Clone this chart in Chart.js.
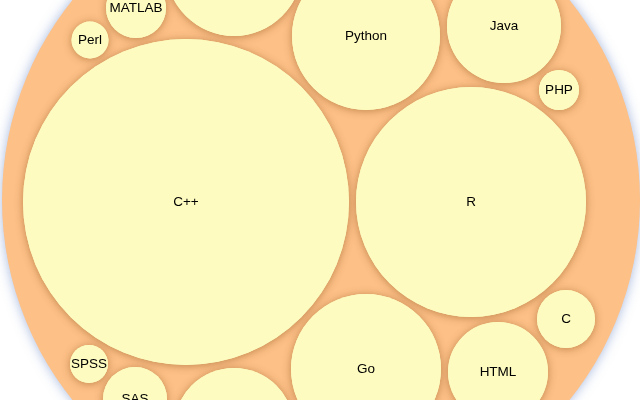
<!DOCTYPE html>
<html>
<head>
<meta charset="utf-8">
<script src="https://cdn.jsdelivr.net/npm/chart.js@4"></script>
<style>
  html, body { margin: 0; padding: 0; background: #fff; }
  #wrap { width: 640px; height: 400px; }
</style>
</head>
<body>
<div id="wrap"><canvas id="chart-bubbles"></canvas></div>
<script>
// packed-circle layout, in chart units (x 0..640, y 0..400 top-down)
const langs = ['C++', 'R', 'Python', 'Go', 'Java', 'HTML', 'JavaScript', 'SQL',
               'MATLAB', 'SAS', 'C', 'PHP', 'Perl', 'SPSS'];
const langX = [186, 471, 366, 366, 504, 498, 234, 234, 136, 135, 566, 559, 90, 89];
const langY = [202, 202, 36, 369, 26, 372, -32, 428, 8, 399, 319, 90, 40, 364];
const langR = [163, 115, 74, 75, 57, 50, 68, 60, 30, 32, 29, 20, 18.5, 19];

// the enclosing circle
const outerX = [321];
const outerY = [200];
const outerR = [319];

const points = langs.map((name, i) => ({ x: langX[i], y: langY[i], size: langR[i] }));
const outer = outerX.map((x, i) => ({ x, y: outerY[i], size: outerR[i] }));

// circle radius in pixels, taken from the x scale
function pxRadius(c) {
  const sx = c.chart.scales.x;
  if (!c.raw || !sx) return 0;
  return sx.getPixelForValue(c.raw.size) - sx.getPixelForValue(0);
}

const shadowPlugin = {
  id: 'shadows',
  beforeDatasetDraw(chart, args) {
    const sh = chart.data.datasets[args.index].shadow;
    if (!sh) return;
    const ctx = chart.ctx;
    ctx.save();
    ctx.shadowColor = sh.color;
    ctx.shadowBlur = sh.blur;
    ctx.shadowOffsetX = 0;
    ctx.shadowOffsetY = sh.dy || 0;
  },
  afterDatasetDraw(chart, args) {
    if (chart.data.datasets[args.index].shadow) chart.ctx.restore();
  }
};

const labelPlugin = {
  id: 'bubbleLabels',
  afterDatasetsDraw(chart) {
    const ctx = chart.ctx;
    const meta = chart.getDatasetMeta(0);
    ctx.save();
    ctx.font = '13.5px "Liberation Sans", Arial, sans-serif';
    ctx.fillStyle = '#000';
    ctx.textAlign = 'center';
    ctx.textBaseline = 'middle';
    meta.data.forEach((el, i) => {
      ctx.fillText(langs[i], el.x, el.y);
    });
    ctx.restore();
  }
};

const circleStyle = {
  showLine: false,
  pointRadius: pxRadius,
  pointBorderWidth: 0,
  clip: false
};

new Chart(document.getElementById('chart-bubbles'), {
  type: 'scatter',
  data: {
    datasets: [
      { ...circleStyle, label: 'languages', data: points, pointBackgroundColor: '#fdfbbf' },
      { ...circleStyle, label: 'shade', data: points, pointBackgroundColor: '#fdfbbf',
        shadow: { color: 'rgba(110,55,0,0.42)', blur: 9, dy: 1 } },
      { ...circleStyle, label: 'outer', data: outer, pointBackgroundColor: '#fdc086',
        shadow: { color: 'rgba(80,115,190,0.5)', blur: 12, dy: 0 } }
    ]
  },
  options: {
    responsive: true,
    maintainAspectRatio: false,
    animation: false,
    events: [],
    layout: { padding: 0 },
    plugins: { legend: { display: false }, tooltip: { enabled: false } },
    scales: {
      x: { type: 'linear', min: 0, max: 640, display: false },
      y: { type: 'linear', min: 0, max: 400, reverse: true, display: false }
    }
  },
  plugins: [shadowPlugin, labelPlugin]
});
</script>
</body>
</html>
